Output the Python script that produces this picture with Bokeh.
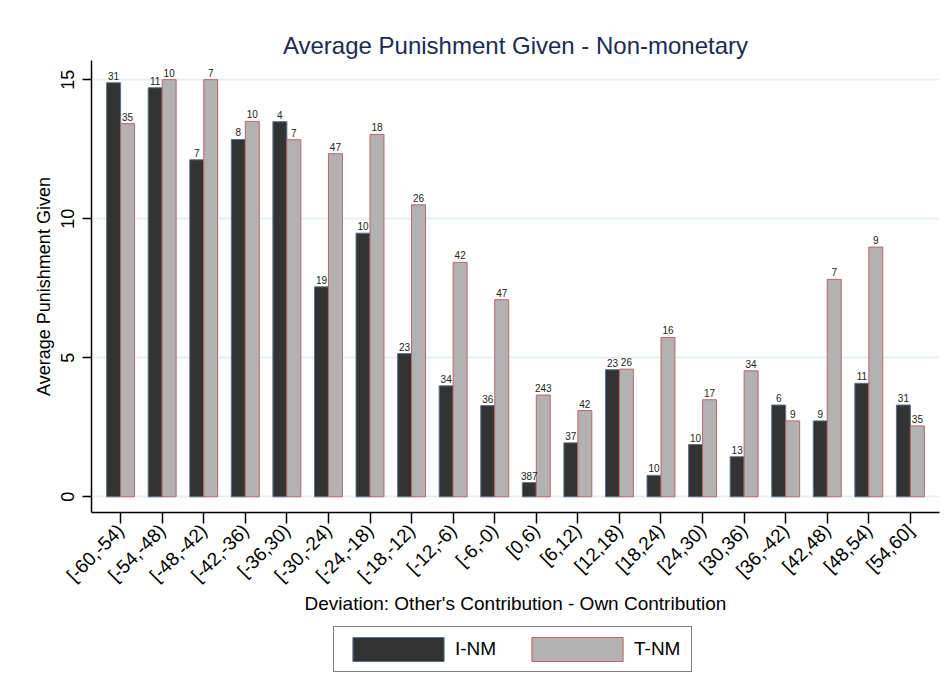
import math

from bokeh.core.properties import value
from bokeh.embed import file_html
from bokeh.layouts import column
from bokeh.models import (ColumnDataSource, FixedTicker, Legend, LegendItem,
                          Range1d)
from bokeh.plotting import figure
from bokeh.resources import INLINE

# Deviation bins: other's contribution minus own contribution
categories = ["[-60,-54)", "[-54,-48)", "[-48,-42)", "[-42,-36)", "[-36,30)",
              "[-30,-24)", "[-24,-18)", "[-18,-12)", "[-12,-6)", "[-6,-0)",
              "[0,6)", "[6,12)", "[12,18)", "[18,24)", "[24,30)", "[30,36)",
              "[36,-42)", "[42,48)", "[48,54)", "[54,60]"]

# Average punishment given per bin
inm_mean = [14.89, 14.71, 12.12, 12.85, 13.49, 7.55, 9.48, 5.15, 3.99, 3.28,
            0.51, 1.94, 4.57, 0.77, 1.88, 1.44, 3.30, 2.73, 4.08, 3.30]
tnm_mean = [13.42, 15.00, 15.00, 13.50, 12.84, 12.34, 13.03, 10.50, 8.43, 7.09,
            3.66, 3.10, 4.59, 5.73, 3.49, 4.53, 2.73, 7.82, 8.98, 2.55]

# Number of observations in each bin
inm_n = [31, 11, 7, 8, 4, 19, 10, 23, 34, 36, 387, 37, 23, 10, 10, 13, 6, 9, 11, 31]
tnm_n = [35, 10, 7, 10, 7, 47, 18, 26, 42, 47, 243, 42, 26, 16, 17, 34, 9, 7, 9, 35]

series_names = ["I-NM", "T-NM"]
y_ticks = [0, 5, 10, 15]

FONT = "Liberation Sans"
DARK, DARK_EDGE = "#333333", "#5d7188"
GREY, GREY_EDGE = "#b2b2b2", "#b9676b"
BAR_W = 0.336
idx = list(range(len(categories)))

src_i = ColumnDataSource(dict(x=[i - BAR_W / 2 for i in idx], top=inm_mean,
                              lab=[str(n) for n in inm_n]))
src_t = ColumnDataSource(dict(x=[i + BAR_W / 2 for i in idx], top=tnm_mean,
                              lab=[str(n) for n in tnm_n]))

# ---- main bar chart -------------------------------------------------------
p = figure(width=950, height=622, output_backend="svg", toolbar_location=None,
           x_range=Range1d(-0.7, len(categories) - 0.3),
           y_range=Range1d(-0.565, 15.69),
           min_border_left=91, min_border_right=11,
           min_border_top=60, min_border_bottom=110,
           title="Average Punishment Given - Non-monetary")

p.title.align = "center"
p.title.text_font = FONT
p.title.text_font_size = "24px"
p.title.text_font_style = "normal"
p.title.text_color = "#1c2b52"
p.title.standoff = 4

p.outline_line_color = None
p.background_fill_color = "white"
p.border_fill_color = "white"

p.vbar(x="x", top="top", bottom=0, width=BAR_W, source=src_i,
       fill_color=DARK, line_color=DARK_EDGE, line_width=1)
p.vbar(x="x", top="top", bottom=0, width=BAR_W, source=src_t,
       fill_color=GREY, line_color=GREY_EDGE, line_width=1)

for src in (src_i, src_t):
    p.text(x="x", y="top", text="lab", source=src, y_offset=-3,
           text_align="center", text_baseline="bottom",
           text_font=value(FONT), text_font_size="10px", text_color="#222222")

p.xaxis.ticker = FixedTicker(ticks=idx)
p.xaxis.major_label_overrides = {i: c for i, c in enumerate(categories)}
p.xaxis.major_label_orientation = math.pi / 4
p.xaxis.axis_label = "Deviation: Other's Contribution - Own Contribution"
p.yaxis.ticker = FixedTicker(ticks=y_ticks)
p.yaxis.major_label_orientation = "vertical"
p.yaxis.axis_label = "Average Punishment Given"

for ax in (p.xaxis[0], p.yaxis[0]):
    ax.axis_line_color = "black"
    ax.axis_line_width = 1.5
    ax.major_tick_line_color = "black"
    ax.major_tick_line_width = 1.5
    ax.major_tick_in = 0
    ax.minor_tick_line_color = None
    ax.major_label_text_font = FONT
    ax.major_label_text_color = "black"
    ax.axis_label_text_font = FONT
    ax.axis_label_text_font_style = "normal"
    ax.axis_label_text_color = "black"

p.xaxis.major_tick_out = 11
p.xaxis.major_label_text_font_size = "19px"
p.xaxis.major_label_standoff = 4
p.xaxis.axis_label_text_font_size = "19px"
p.xaxis.axis_label_standoff = -3
p.yaxis.major_tick_out = 9
p.yaxis.major_label_text_font_size = "18px"
p.yaxis.major_label_standoff = 8
p.yaxis.axis_label_text_font_size = "18px"
p.yaxis.axis_label_standoff = 5

p.xgrid.grid_line_color = None
p.ygrid.ticker = FixedTicker(ticks=y_ticks)
p.ygrid.grid_line_color = "#e8eff2"
p.ygrid.grid_line_width = 2

# ---- legend strip underneath ---------------------------------------------
leg = figure(width=950, height=77, output_backend="svg", toolbar_location=None,
             x_range=Range1d(0, 1), y_range=Range1d(0, 1),
             min_border=0, x_axis_type=None, y_axis_type=None)
leg.outline_line_color = None
leg.grid.visible = False
leg.border_fill_color = "white"

# key glyphs sit outside the visible range; only their legend swatches show
key_i = leg.vbar(x=[-10], top=[-10], width=0.1, fill_color=DARK,
                 line_color=DARK_EDGE, line_width=1)
key_t = leg.vbar(x=[-10], top=[-10], width=0.1, fill_color=GREY,
                 line_color=GREY_EDGE, line_width=1)

# area swatches are inset by 10% of the glyph box, so the box is 114 x 30
legend = Legend(items=[LegendItem(label=series_names[0], renderers=[key_i]),
                       LegendItem(label=series_names[1], renderers=[key_t])],
                location=(242, 27), orientation="horizontal",
                glyph_width=114, glyph_height=30, label_standoff=0,
                label_width=50, spacing=15, padding=7, margin=0,
                label_text_font=FONT, label_text_font_size="19px",
                label_text_color="black",
                border_line_color="black", border_line_width=1.5,
                background_fill_color="white", background_fill_alpha=1)
leg.add_layout(legend)

layout = column(p, leg, spacing=0)
open("out.html", "w").write(file_html(layout, INLINE))
